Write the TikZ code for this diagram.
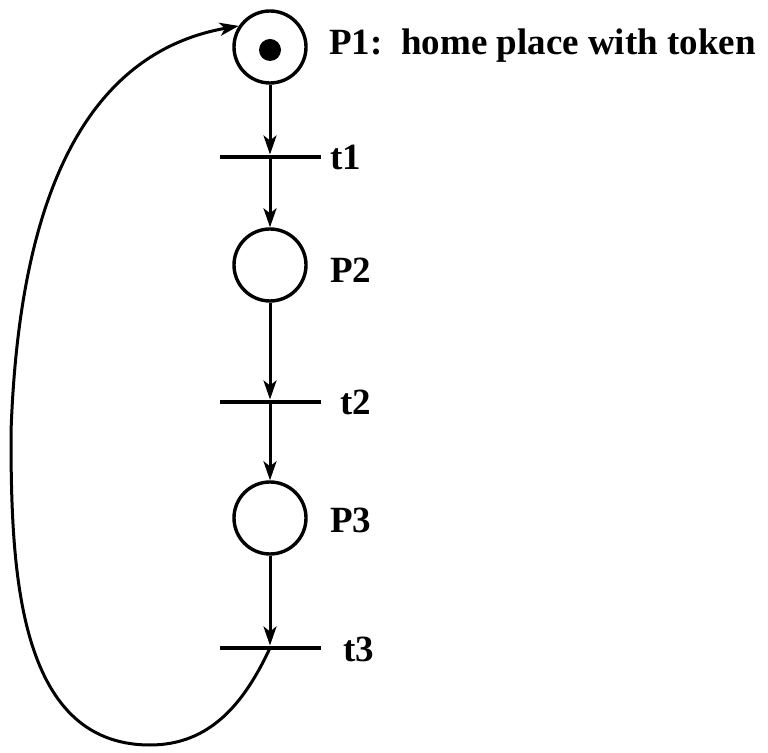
\documentclass[tikz,border=0pt]{standalone}
\usepackage{fontspec}
\setmainfont{Liberation Serif}
\usetikzlibrary{arrows.meta}

\tikzset{
  place/.style={circle, draw, line width=3.4pt, minimum size=72pt, inner sep=0pt},
  token/.style={circle, fill=black, minimum size=22pt, inner sep=0pt},
  trans/.style={fill=black, minimum width=101pt, minimum height=4.6pt, inner sep=0pt},
  lbl/.style={anchor=base west, inner sep=0pt, font=\rmfamily\bfseries\fontsize{37}{42}\selectfont},
  arc/.style={line width=3pt, -{Stealth[length=19pt, width=13pt, inset=5pt]}}
}

\begin{document}
\begin{tikzpicture}[x=1pt, y=1pt]
\useasboundingbox (0,0) rectangle (768,752);

% places and transitions
\node[place] (P1) at (270,705) {};
\node[token] (tok) at (270,702) {};
\node[trans] (t1) at (270,595) {};
\node[place] (P2) at (270,487) {};
\node[trans] (t2) at (270,350) {};
\node[place] (P3) at (270,234) {};
\node[trans] (t3) at (270,104) {};

% labels
\node[lbl] (P1lbl) at (329,697) {P1:\ \ home place with token};
\node[lbl] (t1lbl) at (330,582) {t1};
\node[lbl] (P2lbl) at (330,469) {P2};
\node[lbl] (t2lbl) at (340,337) {t2};
\node[lbl] (P3lbl) at (330,219) {P3};
\node[lbl] (t3lbl) at (343,90) {t3};

% arcs
\draw[arc] (P1) -- (t1);
\draw[arc] (t1) -- (P2);
\draw[arc] (P2) -- (t2);
\draw[arc] (t2) -- (P3);
\draw[arc] (P3) -- (t3);

% back to the home place
\coordinate (bot) at (150,7);
\coordinate (left) at (11,320);
\draw[arc] (t3.center) to[out=-115,in=0] (bot) to[out=180,in=-90] (left)
  to[out=88,in=190] (P1.146);
\end{tikzpicture}
\end{document}
